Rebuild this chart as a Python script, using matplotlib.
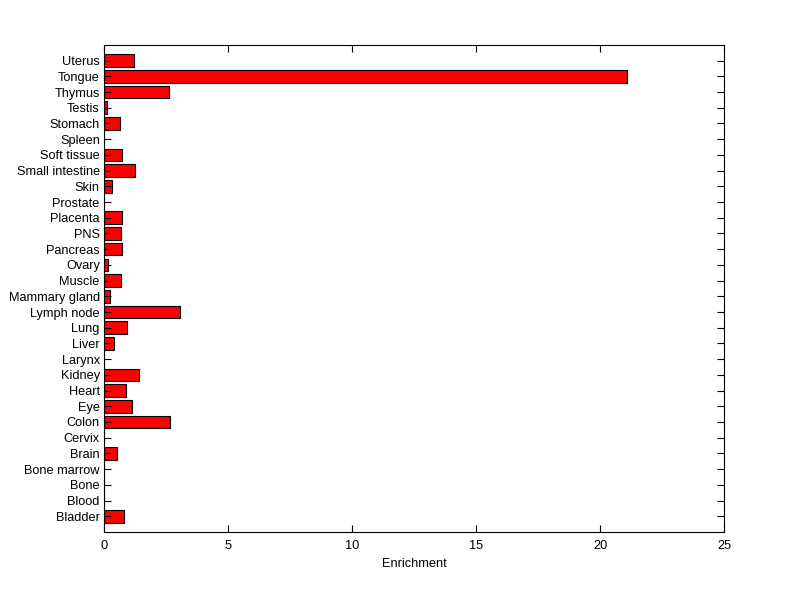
import matplotlib
matplotlib.use('Agg')
import matplotlib.pyplot as plt
import numpy as np

# tissues, bottom to top
tissues = ['Bladder', 'Blood', 'Bone', 'Bone marrow', 'Brain', 'Cervix', 'Colon',
           'Eye', 'Heart', 'Kidney', 'Larynx', 'Liver', 'Lung', 'Lymph node',
           'Mammary gland', 'Muscle', 'Ovary', 'Pancreas', 'PNS', 'Placenta',
           'Prostate', 'Skin', 'Small intestine', 'Soft tissue', 'Spleen',
           'Stomach', 'Testis', 'Thymus', 'Tongue', 'Uterus']
enrichment = [0.82, 0.0, 0.0, 0.0, 0.54, 0.0, 2.68,
              1.14, 0.90, 1.43, 0.0, 0.42, 0.94, 3.08,
              0.24, 0.70, 0.16, 0.74, 0.70, 0.74,
              0.0, 0.34, 1.27, 0.74, 0.0,
              0.65, 0.12, 2.64, 21.1, 1.19]

plt.rcParams['font.family'] = ['Liberation Sans', 'DejaVu Sans']

fig = plt.figure(figsize=(8, 5.99), dpi=100)
ax = fig.add_axes([0.13, 0.1119, 0.775, 0.8131])

pos = np.arange(1, len(tissues) + 1)
ax.barh(pos, enrichment, height=0.8, color='#ff0000', edgecolor='black', linewidth=0.8)

ax.set_xlim(0, 25)
ax.set_ylim(0, len(tissues) + 1)
ax.set_xticks([0, 5, 10, 15, 20, 25])
ax.set_yticks(pos)
ax.set_yticklabels(tissues)
ax.set_xlabel('Enrichment', fontsize=9.2, labelpad=4)
ax.tick_params(direction='in', length=5, width=0.8, top=True, right=True,
               labelsize=9.2, pad=3)
ax.tick_params(axis='x', pad=6)
for s in ax.spines.values():
    s.set_linewidth(0.8)

fig.savefig('out.png', dpi=100)
